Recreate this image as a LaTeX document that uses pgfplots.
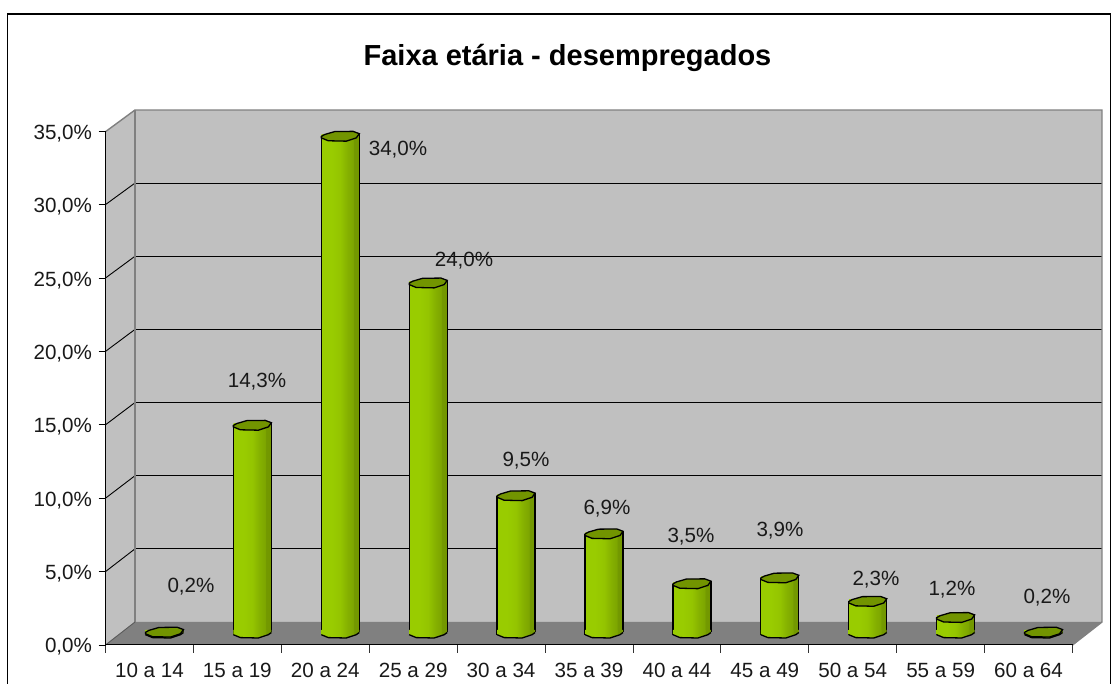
\documentclass[border=0pt]{standalone}
\usepackage{pgfplots}
\pgfplotsset{compat=1.18}
\usepackage{pgfplotstable}
\usepackage{fontspec}
\setmainfont{Liberation Sans}
\definecolor{wall}{HTML}{C0C0C0}
\definecolor{floorc}{HTML}{808080}
\definecolor{capc}{HTML}{729400}
\pgfdeclarehorizontalshading{cyl}{100bp}{rgb(0bp)=(0.60,0.80,0); rgb(25bp)=(0.60,0.80,0); rgb(38bp)=(0.60,0.80,0); rgb(50bp)=(0.58,0.77,0); rgb(60bp)=(0.52,0.69,0); rgb(67bp)=(0.49,0.65,0); rgb(68bp)=(0.45,0.60,0); rgb(75bp)=(0.45,0.59,0); rgb(100bp)=(0.45,0.59,0)}
\pgfdeclareplotmark{captop}{%
  \pgfpathmoveto{\pgfqpoint{-19pt}{-1.7pt}}%
  \pgfpathlineto{\pgfqpoint{-19pt}{-0.3pt}}%
  \pgfpathlineto{\pgfqpoint{-15.5pt}{1.7pt}}%
  \pgfpathlineto{\pgfqpoint{-5.5pt}{4.6pt}}%
  \pgfpathlineto{\pgfqpoint{12.8pt}{4.8pt}}%
  \pgfpathlineto{\pgfqpoint{19pt}{2.5pt}}%
  \pgfpathlineto{\pgfqpoint{16pt}{-1.7pt}}%
  \pgfpathlineto{\pgfqpoint{6pt}{-5pt}}%
  \pgfpathlineto{\pgfqpoint{-12pt}{-4.6pt}}%
  \pgfpathclose
  \pgfusepathqfillstroke}
\pgfdeclareplotmark{capbot}{%
  \pgfpathmoveto{\pgfqpoint{-19pt}{-1.7pt}}%
  \pgfpathlineto{\pgfqpoint{-12pt}{-4.6pt}}%
  \pgfpathlineto{\pgfqpoint{6pt}{-5pt}}%
  \pgfpathlineto{\pgfqpoint{16pt}{-1.7pt}}%
  \pgfpathlineto{\pgfqpoint{19pt}{0.5pt}}%
  \pgfpathlineto{\pgfqpoint{19pt}{3pt}}%
  \pgfpathlineto{\pgfqpoint{-19pt}{3pt}}%
  \pgfpathclose
  \pgfshadepath{cyl}{0}%
  \pgfusepath{discard}%
  \pgfpathmoveto{\pgfqpoint{-19pt}{-1.7pt}}%
  \pgfpathlineto{\pgfqpoint{-12pt}{-4.6pt}}%
  \pgfpathlineto{\pgfqpoint{6pt}{-5pt}}%
  \pgfpathlineto{\pgfqpoint{16pt}{-1.7pt}}%
  \pgfpathlineto{\pgfqpoint{19pt}{0.5pt}}%
  \pgfusepathqstroke}
\pgfplotstableread{
x v
0 0.2
1 14.3
2 34.0
3 24.0
4 9.5
5 6.9
6 3.5
7 3.9
8 2.3
9 1.2
10 0.2
}\agedata
\pgfplotstableread{
x v
0 0
1 0
2 0
3 0
4 0
5 0
6 0
7 0
8 0
9 0
10 0
}\basedata
\begin{document}
\begin{tikzpicture}[x=1pt,y=1pt]
\useasboundingbox (0,0) rectangle (1113,684);
\fill[white] (0,0) rectangle (1113,684);
% frame
\draw[black,line width=1.4pt] (7.5,-5) -- (7.5,670) -- (1110.5,670) -- (1110.5,-5);
% walls
\fill[wall] (105.5,39) -- (135,62) -- (135,574) -- (105.5,552.3) -- cycle;
\fill[wall] (135,62) rectangle (1102,574);
\fill[floorc] (105.5,39) -- (135,62) -- (1102,62) -- (1072.5,39) -- cycle;
% grid
\foreach \v in {1,2,3,4,5,6}{
  \pgfmathsetmacro\yb{62+73.15*\v}
  \pgfmathsetmacro\yf{39+73.4*\v}
  \draw[black,line width=0.9pt] (135,\yb) -- (1102,\yb);
  \draw[black,line width=0.9pt] (105.5,\yf) -- (135,\yb);
}
% wall edges
\draw[floorc,line width=1.4pt] (105.5,552.3) -- (135,574) -- (1102,574) -- (1102,62) -- (1072.5,39);
\draw[floorc,line width=1.4pt] (135,574) -- (135,62);
\draw[floorc!70!black,line width=0.9pt] (105.5,39) -- (135,62);
\begin{axis}[
  at={(105.5pt,39pt)}, anchor=south west,
  scale only axis, width=967pt, height=513.5pt,
  xmin=-0.5, xmax=10.5, ymin=0, ymax=35,
  clip=false,
  axis x line=bottom, axis y line=left,
  axis line style={-, black, line width=1pt},
  xtick={0,...,10},
  xticklabels={10 a 14,15 a 19,20 a 24,25 a 29,30 a 34,35 a 39,40 a 44,45 a 49,50 a 54,55 a 59,60 a 64},
  minor xtick={-0.5,0.5,1.5,2.5,3.5,4.5,5.5,6.5,7.5,8.5,9.5,10.5},
  ytick={0,5,...,35},
  yticklabels={0{,}0\%,5{,}0\%,10{,}0\%,15{,}0\%,20{,}0\%,25{,}0\%,30{,}0\%,35{,}0\%},
  /pgf/number format/assume math mode=true,
  tick align=outside,
  major tick length=7pt,
  minor tick length=8pt,
  x tick style={draw=none},
  minor x tick style={draw=black!80,line width=0.9pt},
  y tick style={black,line width=0.9pt},
  ticklabel style={font=\fontsize{20.6}{23}\selectfont,text=black!90},
  xticklabel style={yshift=-8pt},
  yticklabel style={xshift=-3pt,yshift=-2pt},
  bodyb/.style={ybar,bar width=37.4pt,bar shift=0pt,shading=cyl,draw=none,xshift=15pt,yshift=11.5pt,forget plot},
]
\addplot[bodyb] coordinates {(0,0.2)};
\addplot[bodyb] coordinates {(1,14.3)};
\addplot[bodyb] coordinates {(2,34.0)};
\addplot[bodyb] coordinates {(3,24.0)};
\addplot[bodyb] coordinates {(4,9.5)};
\addplot[bodyb] coordinates {(5,6.9)};
\addplot[bodyb] coordinates {(6,3.5)};
\addplot[bodyb] coordinates {(7,3.9)};
\addplot[bodyb] coordinates {(8,2.3)};
\addplot[bodyb] coordinates {(9,1.2)};
\addplot[bodyb] coordinates {(10,0.2)};
\addplot[ycomb,mark=none,draw=black,line width=1.3pt,xshift=-4pt,yshift=10pt] table[x=x,y=v]{\agedata};
\addplot[ycomb,mark=none,draw=black,line width=1.3pt,xshift=34pt,yshift=12.5pt] table[x=x,y=v]{\agedata};
\addplot[only marks,mark=capbot,mark options={draw=black,line width=1.3pt},xshift=15pt,yshift=12pt] table[x=x,y=v]{\basedata};
\addplot[only marks,mark=captop,mark options={fill=capc,draw=black,line width=1.3pt},xshift=15pt,yshift=10pt] table[x=x,y=v]{\agedata};
\end{axis}
% title and value labels
\node[font=\fontsize{29}{32}\selectfont\bfseries,text=black] at (567.5,626) {Faixa etária - desempregados};
\foreach \px/\py/\t in {191/587/{0,2\%},257/382/{14,3\%},398/150/{34,0\%},464/261/{24,0\%},526/461/{9,5\%},607/509/{6,9\%},691/537/{3,5\%},780/531/{3,9\%},876/580/{2,3\%},952/590/{1,2\%},1047/598/{0,2\%}}{
  \node[font=\fontsize{20.6}{23}\selectfont,text=black!90] at (\px,684-\py) {\t};
}
\end{tikzpicture}
\end{document}
